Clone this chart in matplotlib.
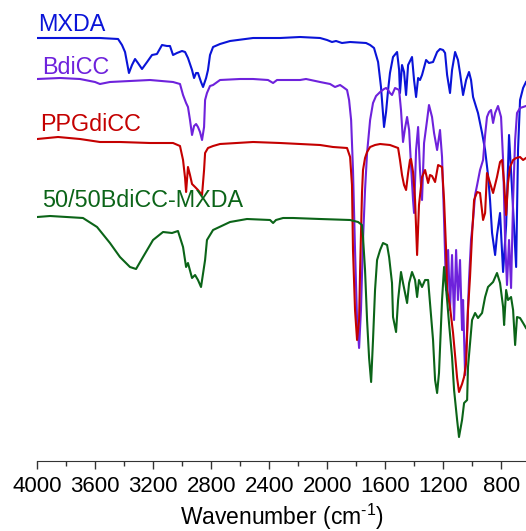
import numpy as np
import matplotlib
matplotlib.use("Agg")
import matplotlib.pyplot as plt
from matplotlib.ticker import MultipleLocator

plt.rcParams['font.family'] = ['Liberation Sans', 'DejaVu Sans']
plt.rcParams['mathtext.default'] = 'regular'

# FTIR spectra, wavenumber (cm-1) vs. offset transmittance (a.u.)
mxda_wn = [4000, 3568, 3443, 3416, 3395, 3368, 3347, 3326, 3306, 3278, 3243, 3209, 3175, 3140,
           3106, 3085, 3064, 3037, 3002, 2981, 2961, 2933, 2919, 2905, 2892, 2871, 2857, 2836,
           2823, 2809, 2788, 2740, 2671, 2512, 2326, 2188, 2050, 2002, 1968, 1940, 1899, 1843,
           1733, 1705, 1678, 1650, 1630, 1609, 1595, 1581, 1568, 1547, 1519, 1505, 1499, 1485,
           1471, 1457, 1443, 1416, 1402, 1388, 1374, 1361, 1347, 1319, 1299, 1271, 1243, 1223,
           1202, 1188, 1174, 1154, 1140, 1119, 1099, 1085, 1064, 1043, 1023, 1009, 995, 974,
           961, 933, 912, 892, 878, 864, 843, 830, 809, 788, 767, 747, 726, 698, 685, 671, 650, 630]
mxda_t = [423, 423, 422, 416, 409, 388, 396, 402, 398, 392, 399, 406, 407, 416,
          415, 415, 406, 408, 410, 409, 403, 391, 383, 388, 388, 379, 374, 383,
          391, 406, 414, 417, 420, 423, 423, 424, 423, 421, 419, 420, 418, 419,
          418, 416, 413, 399, 374, 334, 349, 371, 388, 404, 409, 391, 368, 396,
          389, 366, 396, 404, 381, 364, 383, 381, 386, 401, 398, 399, 409, 412,
          411, 408, 386, 368, 391, 409, 401, 388, 366, 381, 389, 381, 364, 354,
          348, 328, 311, 286, 261, 228, 206, 226, 248, 189, 236, 326, 271, 194, 311, 361, 373, 379]

bdicc_wn = [4000, 3843, 3706, 3602, 3568, 3499, 3361, 3223, 3064, 3016, 2995, 2974, 2961, 2947,
            2933, 2919, 2905, 2892, 2878, 2864, 2850, 2843, 2830, 2809, 2788, 2740, 2602, 2512,
            2409, 2374, 2347, 2188, 2147, 2050, 1981, 1947, 1912, 1892, 1864, 1850, 1836, 1823,
            1809, 1795, 1781, 1768, 1754, 1740, 1726, 1705, 1685, 1664, 1636, 1609, 1595, 1581,
            1568, 1554, 1533, 1505, 1492, 1478, 1464, 1450, 1436, 1423, 1409, 1402, 1388, 1374,
            1361, 1347, 1333, 1312, 1299, 1278, 1264, 1243, 1223, 1209, 1195, 1181, 1167, 1154,
            1140, 1126, 1112, 1099, 1085, 1071, 1064, 1050, 1036, 1023, 1009, 995, 981, 967, 947,
            926, 912, 899, 885, 871, 857, 843, 823, 802, 788, 774, 761, 747, 733, 719, 705, 692,
            671, 650, 630]
bdicc_t = [382, 383, 382, 379, 377, 379, 380, 381, 379, 377, 366, 358, 354, 341,
           326, 335, 337, 334, 329, 321, 334, 361, 368, 375, 376, 381, 382, 382,
           381, 378, 381, 381, 382, 379, 377, 374, 376, 374, 371, 361, 341, 291,
           211, 141, 113, 151, 221, 271, 308, 341, 358, 365, 369, 372, 373, 371,
           368, 366, 373, 371, 351, 319, 333, 344, 331, 296, 261, 248, 311, 334,
           291, 261, 318, 341, 356, 344, 328, 311, 331, 304, 241, 171, 211, 151,
           206, 141, 211, 161, 201, 131, 161, 86, 131, 181, 221, 241, 266, 276, 291,
           301, 326, 344, 349, 351, 338, 348, 355, 344, 301, 221, 176, 221, 173, 261, 321, 348,
           353, 354, 355]

ppgdicc_wn = [4000, 3857, 3706, 3568, 3430, 3223, 3064, 3016, 2995, 2981, 2974, 2961, 2947, 2933,
              2912, 2892, 2864, 2850, 2843, 2823, 2788, 2740, 2512, 2326, 2188, 2050, 1961, 1864,
              1843, 1830, 1823, 1809, 1795, 1781, 1774, 1761, 1754, 1740, 1726, 1705, 1671, 1636,
              1568, 1512, 1499, 1485, 1471, 1457, 1443, 1430, 1423, 1409, 1395, 1381, 1368, 1347,
              1326, 1305, 1292, 1278, 1257, 1236, 1209, 1195, 1181, 1174, 1154, 1133, 1105, 1092,
              1071, 1057, 1043, 1030, 1016, 1002, 988, 967, 947, 926, 912, 899, 878, 857, 830,
              809, 795, 781, 767, 754, 740, 719, 698, 671, 650, 630]
ppgdicc_t = [322, 324, 322, 319, 319, 318, 318, 315, 301, 283, 269, 294, 286, 277,
             274, 271, 266, 291, 308, 313, 315, 317, 319, 318, 317, 316, 314, 313,
             304, 276, 211, 151, 121, 141, 191, 268, 291, 303, 309, 314, 316, 317,
             316, 313, 301, 286, 276, 271, 288, 301, 302, 289, 261, 206, 256, 284,
             291, 278, 286, 285, 279, 296, 294, 261, 211, 171, 154, 128, 83, 69,
             77, 84, 98, 151, 184, 226, 261, 269, 268, 241, 248, 288, 278, 268, 284,
             299, 301, 278, 246, 278, 294, 301, 303, 304, 301, 303]

blend_wn = [4000, 3912, 3685, 3588, 3499, 3430, 3361, 3319, 3271, 3202, 3133, 3071, 3030, 2995,
            2974, 2961, 2933, 2912, 2892, 2871, 2843, 2830, 2788, 2671, 2554, 2395, 2374, 2354,
            2305, 2236, 2050, 1843, 1788, 1761, 1754, 1740, 1726, 1712, 1698, 1685, 1671, 1657,
            1636, 1616, 1588, 1574, 1554, 1547, 1526, 1512, 1492, 1478, 1450, 1436, 1416, 1395,
            1381, 1368, 1347, 1326, 1305, 1292, 1271, 1257, 1243, 1230, 1209, 1195, 1174, 1161,
            1140, 1126, 1105, 1092, 1071, 1057, 1036, 1030, 1002, 981, 961, 933, 912, 892, 857,
            830, 809, 788, 781, 767, 754, 733, 719, 705, 692, 671, 650, 630]
blend_t = [244, 245, 243, 234, 218, 204, 194, 192, 204, 221, 229, 228, 230, 214,
           194, 198, 183, 186, 181, 174, 201, 221, 231, 239, 242, 241, 238, 241,
           243, 243, 242, 241, 239, 236, 224, 191, 141, 103, 79, 121, 171, 201,
           211, 218, 216, 204, 178, 144, 129, 161, 189, 178, 158, 178, 189, 181,
           164, 181, 174, 181, 181, 158, 121, 81, 68, 88, 161, 194, 161, 138,
           104, 71, 41, 24, 41, 58, 61, 94, 141, 148, 143, 148, 164, 174, 179,
           188, 178, 154, 136, 171, 161, 164, 151, 116, 144, 143, 138, 133]

spectra = [
    ("MXDA", mxda_wn, mxda_t, "#0A14D8", 430, 3995),
    ("BdiCC", bdicc_wn, bdicc_t, "#6E22DC", 387, 3968),
    ("PPGdiCC", ppgdicc_wn, ppgdicc_t, "#C40000", 330, 3981),
    ("50/50BdiCC-MXDA", blend_wn, blend_t, "#0B6418", 254, 3968),
]

fig = plt.figure(figsize=(5.26, 5.31), dpi=100)
ax = fig.add_axes([37.3 / 526, 70 / 531, 1 - 37.3 / 526, 461 / 531])

for name, wn, t, color, label_y, label_x in spectra:
    ax.plot(wn, t, color=color, lw=1.5)
    ax.text(label_x, label_y, name, color=color, fontsize=16.8, ha='left', va='baseline')

ax.set_xlim(4000, 630)
ax.set_ylim(0, 461)

for side in ('left', 'right', 'top'):
    ax.spines[side].set_visible(False)
ax.spines['bottom'].set_color('#333333')
ax.set_yticks([])
ax.xaxis.set_major_locator(MultipleLocator(400))
ax.xaxis.set_minor_locator(MultipleLocator(200))
ax.tick_params(axis='x', which='major', length=6, width=1, color='#333333',
               labelsize=16, pad=5)
ax.tick_params(axis='x', which='minor', length=3.5, width=1, color='#333333')
ax.set_xlabel("Wavenumber (cm$^{\u2010 1}$)", fontsize=16.5, labelpad=3)

fig.savefig("out.png", dpi=100)
